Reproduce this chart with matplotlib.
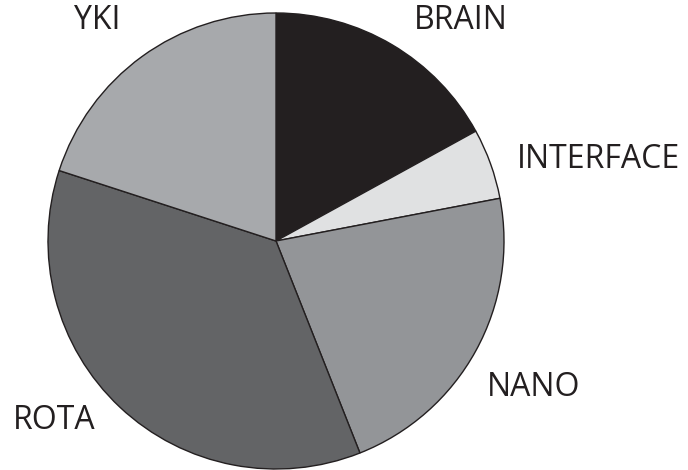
import matplotlib.pyplot as plt

# slice data, clockwise from 12 o'clock
labels = ['BRAIN', 'INTERFACE', 'NANO', 'ROTA', 'YKI']
values = [17, 5, 22, 36, 20]
colors = ['#231f20', '#e0e1e2', '#939598', '#636466', '#a7a9ac']

# label anchor points (left edge, vertical centre) in pie-radius units
label_x = [0.605, 1.055, 0.925, -1.156, -0.885]
label_y = [0.965, 0.357, -0.642, -0.789, 0.965]

fig = plt.figure(figsize=(6.88, 4.70), dpi=100)
ax = fig.add_axes([0, 0, 1, 1])

ax.pie(values, colors=colors, startangle=90, counterclock=False,
       radius=1.0, center=(0, 0),
       wedgeprops=dict(edgecolor='#231f20', linewidth=1.0))

for name, x, y in zip(labels, label_x, label_y):
    ax.text(x, y, name, ha='left', va='center', fontsize=23,
            family='Open Sans', color='#231f20')

ax.set_xlim(-276 / 228, (688 - 276) / 228)
ax.set_ylim(-(470 - 241) / 228, 241 / 228)
ax.set_aspect('equal')
ax.axis('off')

fig.savefig('out.png', dpi=100, facecolor='white')
